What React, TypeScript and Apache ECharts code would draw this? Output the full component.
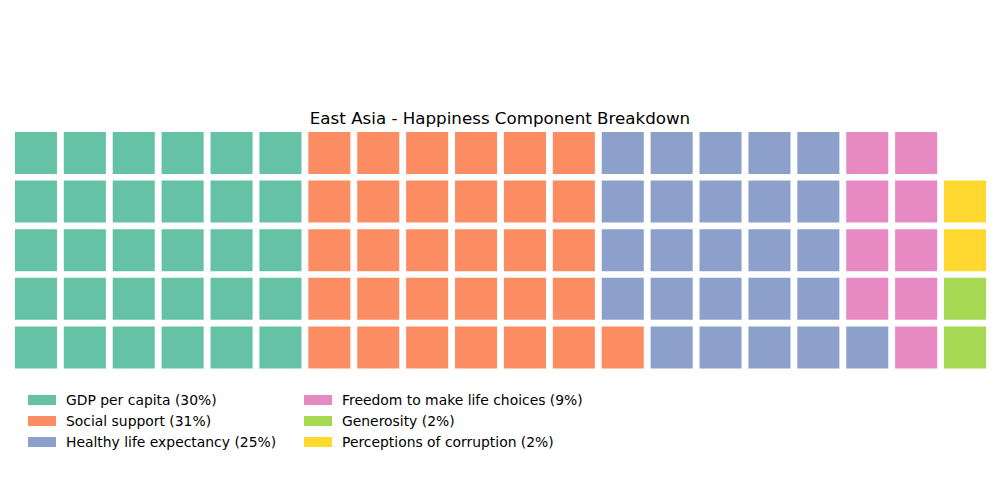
import { useEffect, useRef } from "react";
import * as echarts from "echarts";

const TITLE = "East Asia - Happiness Component Breakdown";
const COMPONENTS = [
  "GDP per capita",
  "Social support",
  "Healthy life expectancy",
  "Freedom to make life choices",
  "Generosity",
  "Perceptions of corruption",
];
const CELL_COUNTS = [30, 31, 25, 9, 2, 2];
const PERCENTS = [30, 31, 25, 9, 2, 2];
const COLORS = ["#66c2a5", "#fc8d62", "#8da0cb", "#e78ac3", "#a6d854", "#ffd92f"];
const COLUMNS = 20;
const ROWS = 5;

const FONT = "DejaVu Sans";

const App = () => {
  const chartRef = useRef<HTMLDivElement>(null);

  useEffect(() => {
    if (!chartRef.current) return;
    const chart = echarts.init(chartRef.current, undefined, { renderer: "svg" });

    // fill the grid column by column, bottom to top
    let idx = 0;
    const cells = CELL_COUNTS.map((n) => {
      const out: number[][] = [];
      for (let k = 0; k < n; k++, idx++) {
        out.push([Math.floor(idx / ROWS), idx % ROWS]);
      }
      return out;
    });

    const names = COMPONENTS.map((c, i) => `${c} (${PERCENTS[i]}%)`);

    const legendCommon = {
      orient: "vertical" as const,
      top: 392,
      padding: 0,
      icon: "rect",
      itemWidth: 28,
      itemHeight: 10,
      itemGap: 5,
      textStyle: {
        fontFamily: FONT,
        fontSize: 13.9,
        color: "#000",
        lineHeight: 16,
        padding: [0, 0, 0, 5],
      },
    };

    chart.setOption({
      animation: false,
      title: {
        text: TITLE,
        left: "center",
        top: 104,
        textStyle: { fontFamily: FONT, fontSize: 16.7, fontWeight: "normal", color: "#000" },
      },
      legend: [
        { ...legendCommon, left: 28, data: names.slice(0, 3) },
        { ...legendCommon, left: 304, data: names.slice(3) },
      ],
      grid: { left: 11.5, right: 10.5, top: 128.7, height: 243 },
      xAxis: {
        type: "category",
        data: Array.from({ length: COLUMNS }, (_, i) => String(i)),
        show: false,
      },
      yAxis: {
        type: "category",
        data: Array.from({ length: ROWS }, (_, i) => String(i)),
        show: false,
      },
      series: names.map((name, i) => ({
        name,
        type: "custom",
        itemStyle: { color: COLORS[i] },
        data: cells[i],
        renderItem: (_params: any, api: any) => {
          const p = api.coord([api.value(0), api.value(1)]);
          const s = api.size([1, 1]);
          const w = s[0] * 0.86;
          const h = s[1] * 0.864;
          return {
            type: "rect",
            shape: { x: p[0] - w / 2, y: p[1] - h / 2, width: w, height: h },
            style: { fill: COLORS[i] },
          };
        },
      })),
    });

    return () => chart.dispose();
  }, []);

  return (
    <div
      ref={chartRef}
      style={{ position: "fixed", left: 0, top: 0, width: 1000, height: 500, background: "#fff" }}
    />
  );
};

export default App;
